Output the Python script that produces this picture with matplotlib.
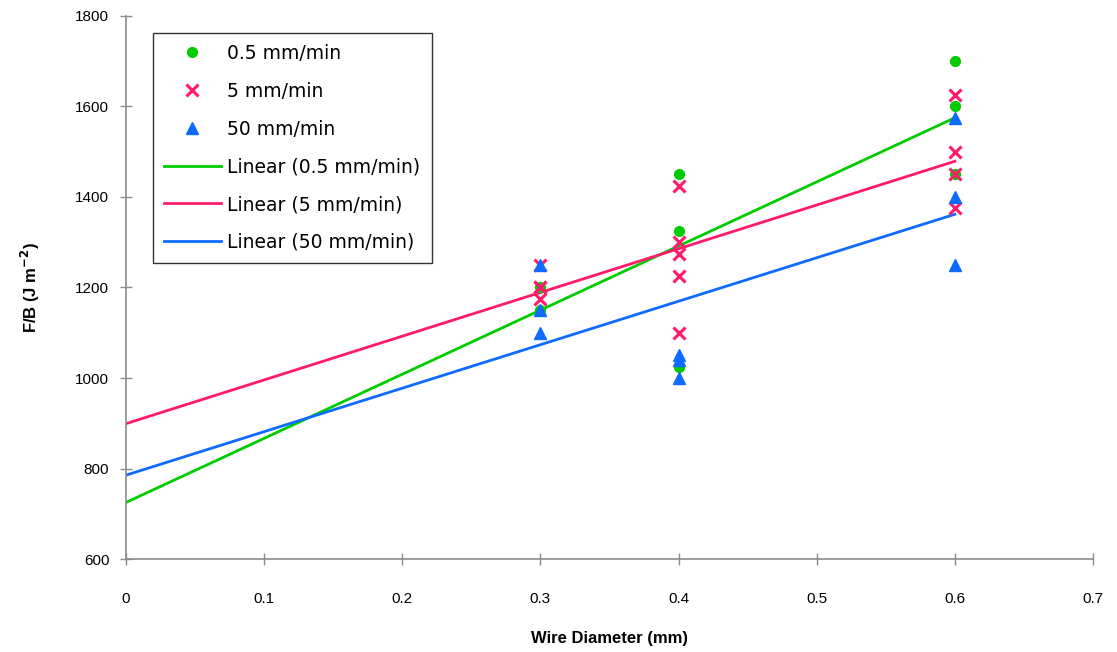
import numpy as np
import matplotlib
matplotlib.use("Agg")
import matplotlib.pyplot as plt

# ---- data ----
x_green = [0.3, 0.3, 0.4, 0.4, 0.4, 0.6, 0.6, 0.6]
y_green = [1200, 1150, 1450, 1325, 1025, 1700, 1600, 1450]

x_pink = [0.3, 0.3, 0.3, 0.3, 0.4, 0.4, 0.4, 0.4, 0.4, 0.6, 0.6, 0.6, 0.6]
y_pink = [1250, 1200, 1200, 1175, 1425, 1300, 1275, 1225, 1100, 1625, 1500, 1450, 1375]

x_blue = [0.3, 0.3, 0.3, 0.4, 0.4, 0.4, 0.6, 0.6, 0.6]
y_blue = [1250, 1150, 1100, 1050, 1040, 1000, 1575, 1400, 1250]

labels = ["0.5 mm/min", "5 mm/min", "50 mm/min"]
trend_x = [0.0, 0.6]
x_ticks = [0, 0.1, 0.2, 0.3, 0.4, 0.5, 0.6, 0.7]
x_ticklabels = ["0", "0.1", "0.2", "0.3", "0.4", "0.5", "0.6", "0.7"]
y_ticks = [600, 800, 1000, 1200, 1400, 1600, 1800]

GREEN = "#00CC00"
PINK = "#FF1A6C"
BLUE = "#0F6BFF"

NARROW = ["Liberation Sans Narrow", "Liberation Sans", "DejaVu Sans"]

fig = plt.figure(figsize=(11.17, 6.52), dpi=100)
ax = fig.add_axes([0.1128, 0.1426, 0.8657, 0.8329])

h1, = ax.plot(x_green, y_green, "o", color=GREEN, ms=7, ls="none", label=labels[0], zorder=3)
h2, = ax.plot(x_pink, y_pink, "x", color=PINK, ms=9, mew=2.2, ls="none", label=labels[1], zorder=3)
h3, = ax.plot(x_blue, y_blue, "^", color=BLUE, ms=8, ls="none", label=labels[2], zorder=3)

handles = [h1, h2, h3]
for xs, ys, c, lab in [(x_green, y_green, GREEN, labels[0]),
                       (x_pink, y_pink, PINK, labels[1]),
                       (x_blue, y_blue, BLUE, labels[2])]:
    m, b = np.polyfit(xs, ys, 1)
    tx = np.array(trend_x)
    h, = ax.plot(tx, m * tx + b, "-", color=c, lw=2, label=f"Linear ({lab})", zorder=2)
    handles.append(h)

ax.set_xlim(0, 0.7)
ax.set_ylim(600, 1800)
ax.set_xticks(x_ticks)
ax.set_xticklabels(x_ticklabels)
ax.set_yticks(y_ticks)

for s in ["top", "right"]:
    ax.spines[s].set_visible(False)
for s in ["left", "bottom"]:
    ax.spines[s].set_color("#8c8c8c")
    ax.spines[s].set_linewidth(1.2)
ax.tick_params(axis="both", direction="inout", length=8, width=1, color="#8c8c8c",
               labelsize=11, pad=8)
for t in ax.get_xticklabels() + ax.get_yticklabels():
    t.set_family(NARROW)
ax.tick_params(axis="x", pad=20)

ax.set_xlabel("Wire Diameter (mm)", fontsize=12, fontweight="bold", labelpad=18,
              family=NARROW)
ax.set_ylabel("F/B (J m$^{\\mathbf{-2}}$)", fontsize=12, fontweight="bold", labelpad=24,
              family=NARROW)

leg = ax.legend(handles=handles, loc="upper left", bbox_to_anchor=(0.028, 0.969),
                borderaxespad=0, frameon=True, fancybox=False, edgecolor="black",
                prop={"family": "DejaVu Sans", "size": 13.5}, labelspacing=1.0,
                handlelength=3.0, handletextpad=0.35, borderpad=0.6)
leg.get_frame().set_linewidth(1.0)

fig.savefig("out.png", dpi=100)
